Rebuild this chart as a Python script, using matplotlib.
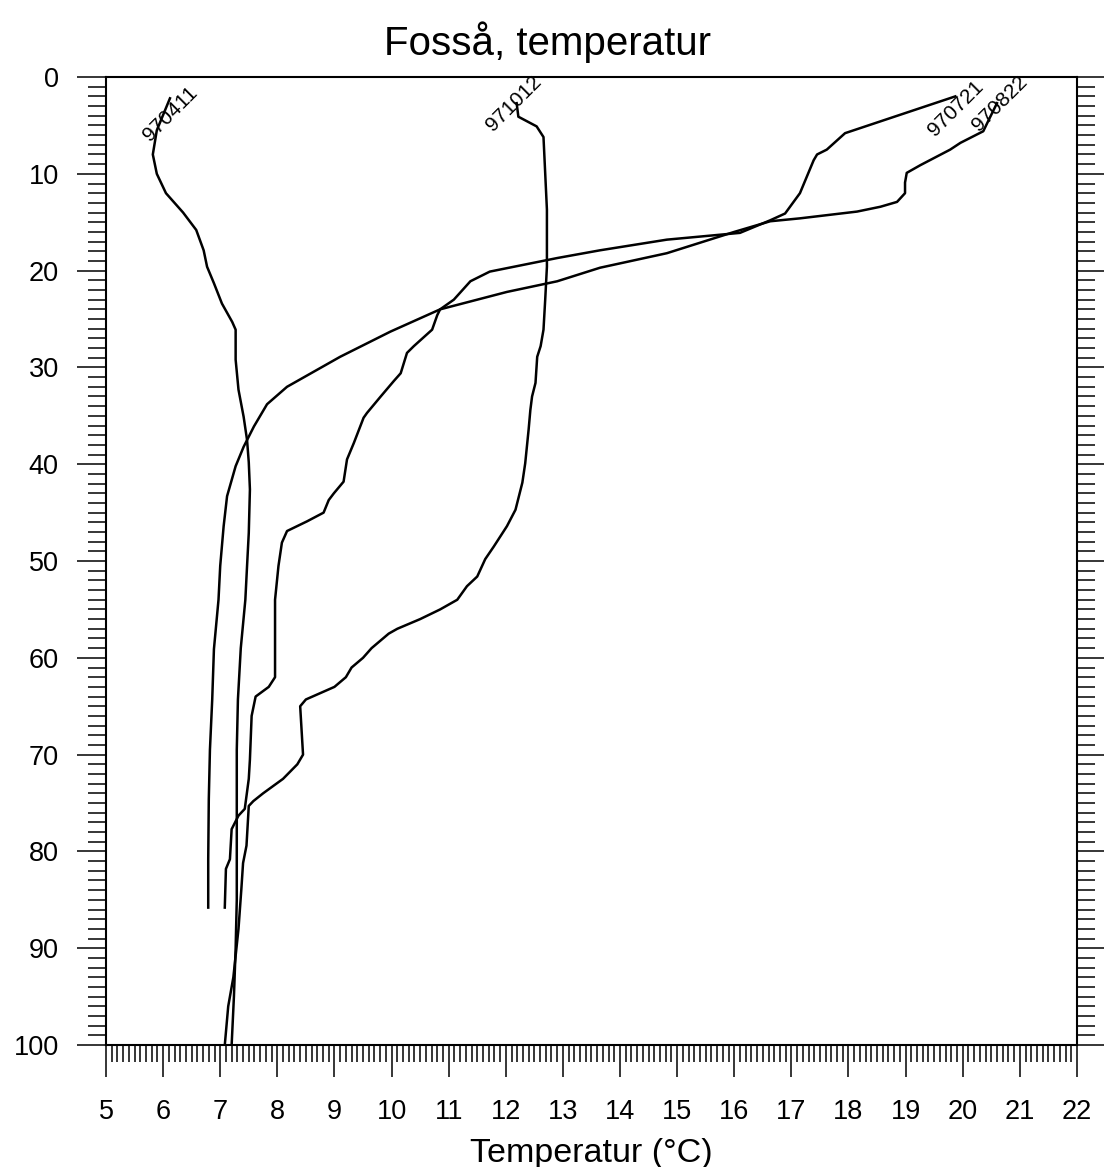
import matplotlib
matplotlib.use('Agg')
import matplotlib.pyplot as plt
from matplotlib.ticker import MultipleLocator

plt.rcParams['font.family'] = ['Liberation Sans', 'DejaVu Sans']

# profiles: temperature (C) and depth (m)
names = ['970411', '971012', '970721', '970822']

d_970411 = [2.2, 5.5, 8, 10, 12, 14, 15.8, 17.9, 19.6, 21.3, 23.4, 25.3, 26.1, 29.2, 32.3,
            35.1, 37.5, 39.8, 42.6, 47.1, 50.5, 54, 59, 64.3, 69.5, 75, 85, 90, 95, 100]
t_970411 = [6.12, 5.89, 5.82, 5.89, 6.05, 6.35, 6.58, 6.71, 6.77, 6.89, 7.03, 7.21, 7.27, 7.27, 7.32,
            7.41, 7.47, 7.50, 7.52, 7.50, 7.47, 7.44, 7.36, 7.31, 7.29, 7.29, 7.29, 7.27, 7.24, 7.2]

d_971012 = [2.7, 4.1, 5.1, 6.2, 13.7, 17.9, 19.6, 23.0, 26.1, 27.8, 28.9, 31.6, 33.0, 34.4, 36.4,
            39.9, 41.9, 44.7, 46.4, 48.5, 49.8, 51.6, 52.6, 54.0, 55, 56, 57, 57.5, 58, 59, 60, 61,
            62, 63, 64.3, 65, 70, 71, 72.5, 74, 74.8, 75.3, 79.4, 81.2, 83.9, 88.0, 93, 96, 100]
t_971012 = [12.19, 12.22, 12.54, 12.66, 12.72, 12.72, 12.72, 12.69, 12.66, 12.61, 12.55, 12.52, 12.46,
            12.43, 12.40, 12.34, 12.29, 12.17, 12.02, 11.79, 11.64, 11.50, 11.32, 11.15, 10.85, 10.5,
            10.1, 9.95, 9.85, 9.65, 9.5, 9.3, 9.2, 9.0, 8.5, 8.4, 8.45, 8.35, 8.1, 7.75, 7.58, 7.50,
            7.46, 7.40, 7.37, 7.32, 7.23, 7.14, 7.08]

d_970721 = [2.0, 5.8, 7.5, 8.0, 8.6, 12.0, 14.1, 14.8, 16.1, 16.8, 17.9, 18.7, 20.1, 21.1, 23.0, 24.0,
            24.6, 26.1, 27.8, 28.5, 30.6, 31.4, 33.0, 34.7, 35.2, 37.8, 39.5, 41.8, 43.0, 43.7, 45.0,
            45.9, 46.9, 48.1, 50.5, 54.0, 62.0, 63.0, 64.0, 66.0, 70.5, 72.5, 75.6, 76.3, 77.7, 80.8,
            81.8, 85.8]
t_970721 = [19.87, 17.94, 17.62, 17.45, 17.39, 17.15, 16.89, 16.63, 16.1, 14.82, 13.65, 12.9, 11.72,
            11.38, 11.09, 10.85, 10.80, 10.71, 10.39, 10.27, 10.16, 10.04, 9.81, 9.57, 9.51, 9.34, 9.22,
            9.16, 8.99, 8.90, 8.81, 8.52, 8.17, 8.08, 8.02, 7.96, 7.96, 7.85, 7.62, 7.55, 7.52, 7.5,
            7.43, 7.32, 7.2, 7.17, 7.10, 7.08]

d_970822 = [2.7, 4.5, 5.6, 6.8, 7.5, 9.1, 9.9, 10.9, 12.0, 12.9, 13.4, 13.9, 14.6, 14.9, 16.0, 18.2,
            19.7, 21.1, 22.2, 24.0, 26.3, 28.9, 32.0, 33.8, 36.1, 38.2, 40.2, 43.3, 46.4, 50.5, 54.0,
            59.1, 64.3, 69.5, 74.6, 80.8, 85.8]
t_970822 = [20.6, 20.45, 20.36, 19.96, 19.78, 19.26, 19.02, 18.99, 18.99, 18.85, 18.56, 18.15, 17.15,
            16.63, 16.0, 14.82, 13.65, 12.9, 12.02, 10.85, 9.98, 9.10, 8.17, 7.82, 7.59, 7.41, 7.27,
            7.12, 7.06, 7.0, 6.97, 6.89, 6.86, 6.82, 6.80, 6.79, 6.79]

temps = [t_970411, t_971012, t_970721, t_970822]
depths = [d_970411, d_971012, d_970721, d_970822]

fig = plt.figure(figsize=(11.04, 11.67), dpi=100)
ax = fig.add_axes([0.096, 0.1045, 0.8795, 0.8295])

# label offsets (points) from the first point of each profile
lab_off = [(0, -11), (-2, 0), (0, -9), (2, 0)]

for i in range(len(names)):
    ax.plot(temps[i], depths[i], color='black', lw=1.8)
    ax.annotate(names[i], (temps[i][0], depths[i][0]), xytext=lab_off[i], textcoords='offset points',
                rotation=45, ha='center', va='center', fontsize=15)

ax.set_xlim(5, 22)
ax.set_ylim(100, 0)
ax.xaxis.set_major_locator(MultipleLocator(1))
ax.xaxis.set_minor_locator(MultipleLocator(0.1))
ax.yaxis.set_major_locator(MultipleLocator(10))
ax.yaxis.set_minor_locator(MultipleLocator(1))

ax.tick_params(axis='x', which='both', direction='out', top=False, width=1.1)
ax.tick_params(axis='x', which='major', length=23, labelsize=19.5, pad=16)
ax.tick_params(axis='x', which='minor', length=12)
ax.tick_params(axis='y', which='both', direction='out', left=True, right=True, width=1.1)
ax.tick_params(axis='y', which='major', length=21, labelsize=19.5, pad=13)
ax.tick_params(axis='y', which='minor', length=13)
for s in ax.spines.values():
    s.set_linewidth(1.5)

ax.set_title('Fosså, temperatur', fontsize=29, pad=16, x=0.455)
ax.set_xlabel('Temperatur (°C)', fontsize=24.5, labelpad=9)

plt.savefig('out.png', dpi=100)
